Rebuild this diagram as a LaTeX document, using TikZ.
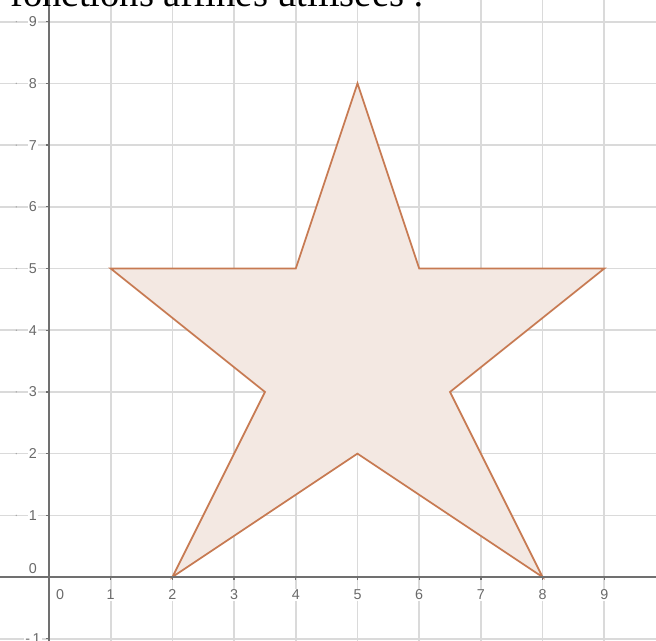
\documentclass[tikz,border=0pt]{standalone}
\usepackage{fontspec}
\setmainfont{Liberation Serif}
\newfontfamily\labfont{Liberation Sans}
\definecolor{gridc}{HTML}{DADADA}
\definecolor{axisc}{HTML}{707070}
\definecolor{labc}{HTML}{6A6A6A}
\definecolor{starline}{HTML}{C77A52}
\definecolor{starfill}{HTML}{F3E8E2}
\tikzset{
  gridline/.style={draw=gridc, line width=0.75pt},
  axisline/.style={draw=axisc, line width=1pt},
  ticklab/.style={font=\labfont\fontsize{6.6}{7}\selectfont, text=labc, fill=white, inner sep=0.6pt},
  starshape/.style={draw=starline, fill=starfill, line width=0.8pt, line join=miter},
  title/.style={font=\fontsize{17.8}{20}\selectfont, anchor=base west, inner sep=0pt}
}
\begin{document}
\begin{tikzpicture}
\clip (-0.794,-1.021) rectangle (9.838,9.352);
\fill[white] (-0.794,-1.021) rectangle (9.838,9.352);
% grid
\foreach \i in {1,...,10} \draw[gridline] (\i,-1.1) -- (\i,9.4);
\foreach \j in {-1,1,2,...,9} \draw[gridline] (-0.8,\j) -- (9.9,\j);
% star
\draw[starshape] (5,8) -- (6,5) -- (9,5) -- (6.5,3) -- (8,0) -- (5,2) -- (2,0) -- (3.5,3) -- (1,5) -- (4,5) -- cycle;
% labels
\foreach \i in {1,...,10} \node[ticklab] (x\i) at (\i,-0.29) {\i};
\node[ticklab] (x0) at (0.18,-0.29) {0};
\foreach \j in {1,...,9} \node[ticklab] (y\j) at (-0.26,\j) {\j};
\node[ticklab] (y0) at (-0.26,0.13) {0};
\node[ticklab] (ym1) at (-0.26,-1) {-\,1};
\foreach \j in {1,...,9} \fill[labc!60] (-0.53,\j) circle (0.012);
% axes
\draw[axisline] (-0.8,0) -- (9.9,0);
\draw[axisline] (0,-1.1) -- (0,9.4);
\foreach \i in {1,...,10} \draw[axisline, line width=0.6pt] (\i,0) -- (\i,-0.05);
\foreach \j in {-1,1,2,...,9} \draw[axisline, line width=0.6pt] (0,\j) -- (-0.05,\j);
% title
\node[title] (t) at (-0.632,9.239) {fonctions affines utilisées :};
\end{tikzpicture}
\end{document}
